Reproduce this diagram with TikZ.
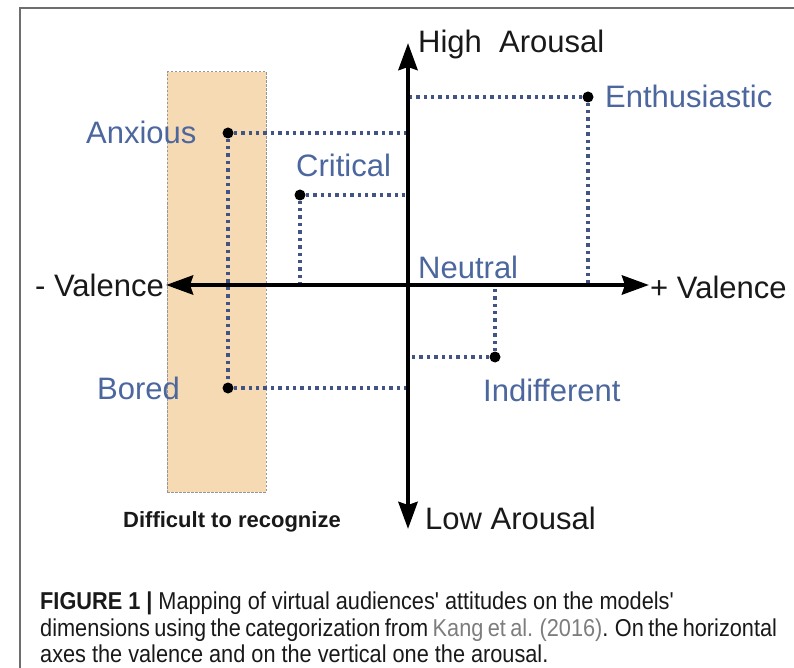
\documentclass[tikz,border=0pt]{standalone}
\usepackage{fontspec}
\setmainfont{Liberation Sans}
\newfontfamily\capfont[FakeStretch=0.89]{Liberation Sans}
\usetikzlibrary{arrows.meta}

\definecolor{labelblue}{RGB}{76,102,158}
\definecolor{guideblue}{RGB}{66,84,132}
\definecolor{zonefill}{RGB}{246,218,180}
\definecolor{zoneline}{RGB}{150,150,150}
\definecolor{inktext}{RGB}{25,25,25}
\definecolor{citegray}{RGB}{125,125,125}
\definecolor{framegray}{RGB}{110,110,110}

\tikzset{
  axis/.style={line width=4.5pt, draw=black,
    {Stealth[length=27pt,width=19pt,inset=3pt]}-{Stealth[length=27pt,width=19pt,inset=3pt]}},
  guide/.style={draw=guideblue, line width=3.6pt, dash pattern=on 3.4pt off 4pt},
  mark point/.style={circle, fill=black, inner sep=0pt, minimum size=11pt},
  state/.style={text=labelblue, inner sep=0pt, font=\fontsize{31}{36}\selectfont},
  axislabel/.style={text=inktext, inner sep=0pt, font=\fontsize{31}{36}\selectfont},
  zone/.style={fill=zonefill, draw=zoneline, line width=1pt, dash pattern=on 2.5pt off 1.5pt},
  capline/.style={anchor=base west, inner sep=0pt, text=inktext, font=\capfont\fontsize{24.4}{28}\selectfont}
}

\begin{document}
\begin{tikzpicture}[x=1pt, y=-1pt]
\useasboundingbox (0,0) rectangle (794,668);
\fill[white] (0,0) rectangle (794,668);

% outer frame
\draw[framegray, line width=1.5pt] (20,668) -- (20,8) -- (794,8);

% region of hard-to-recognise attitudes
\node[zone, minimum width=99pt, minimum height=420pt, inner sep=0pt] (hardzone) at (216.5,282) {};
\node[anchor=base, inner sep=0pt, text=inktext, font=\bfseries\fontsize{22}{26}\selectfont]
  (hardlabel) at (232,527) {Difficult to recognize};

% axis ends
\coordinate (vtop) at (408,43);
\coordinate (vbot) at (408,529);
\coordinate (hleft) at (166,285);
\coordinate (hright) at (649,285);

% attitude points
\node[mark point] (enth) at (588,97) {};
\node[mark point] (anx) at (228,133) {};
\node[mark point] (crit) at (300,195) {};
\node[mark point] (indiff) at (495,357) {};
\node[mark point] (bored) at (228,388) {};

% dotted projections onto the axes
\draw[guide] (enth) -- (enth -| vtop);
\draw[guide] (enth) -- (enth |- hleft);
\draw[guide] (anx) -- (anx -| vtop);
\draw[guide] (anx) -- (bored);
\draw[guide] (crit) -- (crit -| vtop);
\draw[guide] (crit) -- (crit |- hleft);
\draw[guide] (indiff) -- (indiff -| vtop);
\draw[guide] (indiff) -- (indiff |- hleft);
\draw[guide] (bored) -- (bored -| vtop);

% axes
\draw[axis] (vbot) -- (vtop);
\draw[axis] (hleft) -- (hright);

% axis labels
\node[axislabel, anchor=base west] (high) at (418,53) {High\ \ Arousal};
\node[axislabel, anchor=base west] (low) at (425,529) {Low Arousal};
\node[axislabel, anchor=base east] (negval) at (164,296) {- Valence};
\node[axislabel, anchor=base west] (posval) at (650,298) {+ Valence};

% attitude labels
\node[state, anchor=base west] (enthlabel) at (605,108) {Enthusiastic};
\node[state, anchor=base west] (anxlabel) at (86,144) {Anxious};
\node[state, anchor=base west] (critlabel) at (296,177) {Critical};
\node[state, anchor=base west] (neutlabel) at (418,278) {Neutral};
\node[state, anchor=base west] (indifflabel) at (483,401) {Indifferent};
\node[state, anchor=base west] (boredlabel) at (97,399) {Bored};

% caption
\node[capline] (cap1) at (40,609) {\textbf{FIGURE 1 |} Mapping of virtual audiences' attitudes on the models'};
\node[capline] (cap2) at (40,636) {\spaceskip=0.18em\relax dimensions using the categorization from \textcolor{citegray}{Kang et al. (2016)}. On the horizontal};
\node[capline] (cap3) at (40,662) {axes the valence and on the vertical one the arousal.};
\end{tikzpicture}
\end{document}
